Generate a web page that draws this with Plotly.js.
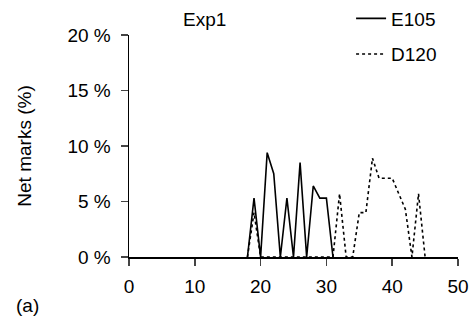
<!DOCTYPE html>
<html>
<head>
<meta charset="utf-8">
<script src="https://cdn.plot.ly/plotly-3.0.1.min.js"></script>
<style>
  html, body { margin: 0; padding: 0; background: #fff; }
  #chart { width: 476px; height: 330px; }
</style>
</head>
<body>
<div id="chart"></div>
<script>
// Net marks (%) per position, Exp1
const seriesNames = ['E105', 'D120'];

const e105X = [18, 19, 20, 21, 22, 23, 24, 25, 26, 27, 28, 29, 30, 31];
const e105Y = [0, 5.3, 0, 9.4, 7.5, 0, 5.3, 0, 8.5, 0, 6.4, 5.3, 5.3, 0];

const d120X = [18, 19, 20, 31, 32, 33, 34, 35, 36, 37, 38, 39, 40, 41, 42, 43, 44, 45];
const d120Y = [0, 4.0, 0, 0, 5.7, 0, 0, 4.0, 4.0, 8.9, 7.1, 7.1, 7.1, 5.7, 4.3, 0, 5.7, 0];

const xTicks = [0, 10, 20, 30, 40, 50];
const yTicks = [0, 5, 10, 15, 20];
const yTickText = yTicks.map(v => v + ' %');

const FONT = 'Liberation Sans, Arial, Helvetica, sans-serif';
const FS = 19;

const traces = [
  {
    x: e105X, y: e105Y, name: seriesNames[0], legendgroup: 'e', type: 'scatter', mode: 'lines',
    line: { color: '#000', width: 1.6 }
  },
  {
    x: d120X, y: d120Y, name: seriesNames[1], legendgroup: 'd', type: 'scatter', mode: 'lines',
    line: { color: '#000', width: 1.6, dash: 'dot' }
  }
];

const layout = {
  width: 476, height: 330,
  margin: { l: 129, r: 18, t: 35, b: 73, autoexpand: false },
  paper_bgcolor: '#fff', plot_bgcolor: '#fff',
  font: { family: FONT, size: FS, color: '#000' },
  title: {
    text: 'Exp1', xref: 'paper', x: 0.23, xanchor: 'center',
    yref: 'container', y: 0.94, yanchor: 'middle',
    font: { family: FONT, size: FS, color: '#000' }
  },
  showlegend: true,
  legend: {
    x: 0.675, xanchor: 'left', y: 1.16, yanchor: 'top',
    traceorder: 'grouped', tracegroupgap: 8,
    font: { family: FONT, size: FS, color: '#000' },
    bgcolor: 'rgba(0,0,0,0)'
  },
  xaxis: {
    range: [0, 50], tickvals: xTicks, ticks: 'outside', ticklen: 7, tickwidth: 1.5,
    showline: true, linecolor: '#000', linewidth: 1.5, showgrid: false, zeroline: false,
    ticklabelstandoff: 5, fixedrange: true
  },
  yaxis: {
    range: [0, 20], tickvals: yTicks, ticktext: yTickText, ticks: 'outside', ticklen: 7, tickwidth: 1.5,
    showline: true, linecolor: '#000', linewidth: 1.5, showgrid: false, zeroline: false,
    ticklabelstandoff: 6, fixedrange: true,
    title: { text: 'Net marks (%)', standoff: 30, font: { family: FONT, size: FS, color: '#000' } }
  },
  annotations: [
    {
      text: '(a)', xref: 'paper', yref: 'paper', x: -0.35, y: -0.22,
      xanchor: 'left', yanchor: 'middle', showarrow: false,
      font: { family: FONT, size: FS, color: '#000' }
    }
  ]
};

Plotly.newPlot('chart', traces, layout, { displayModeBar: false, staticPlot: true });
</script>
</body>
</html>
